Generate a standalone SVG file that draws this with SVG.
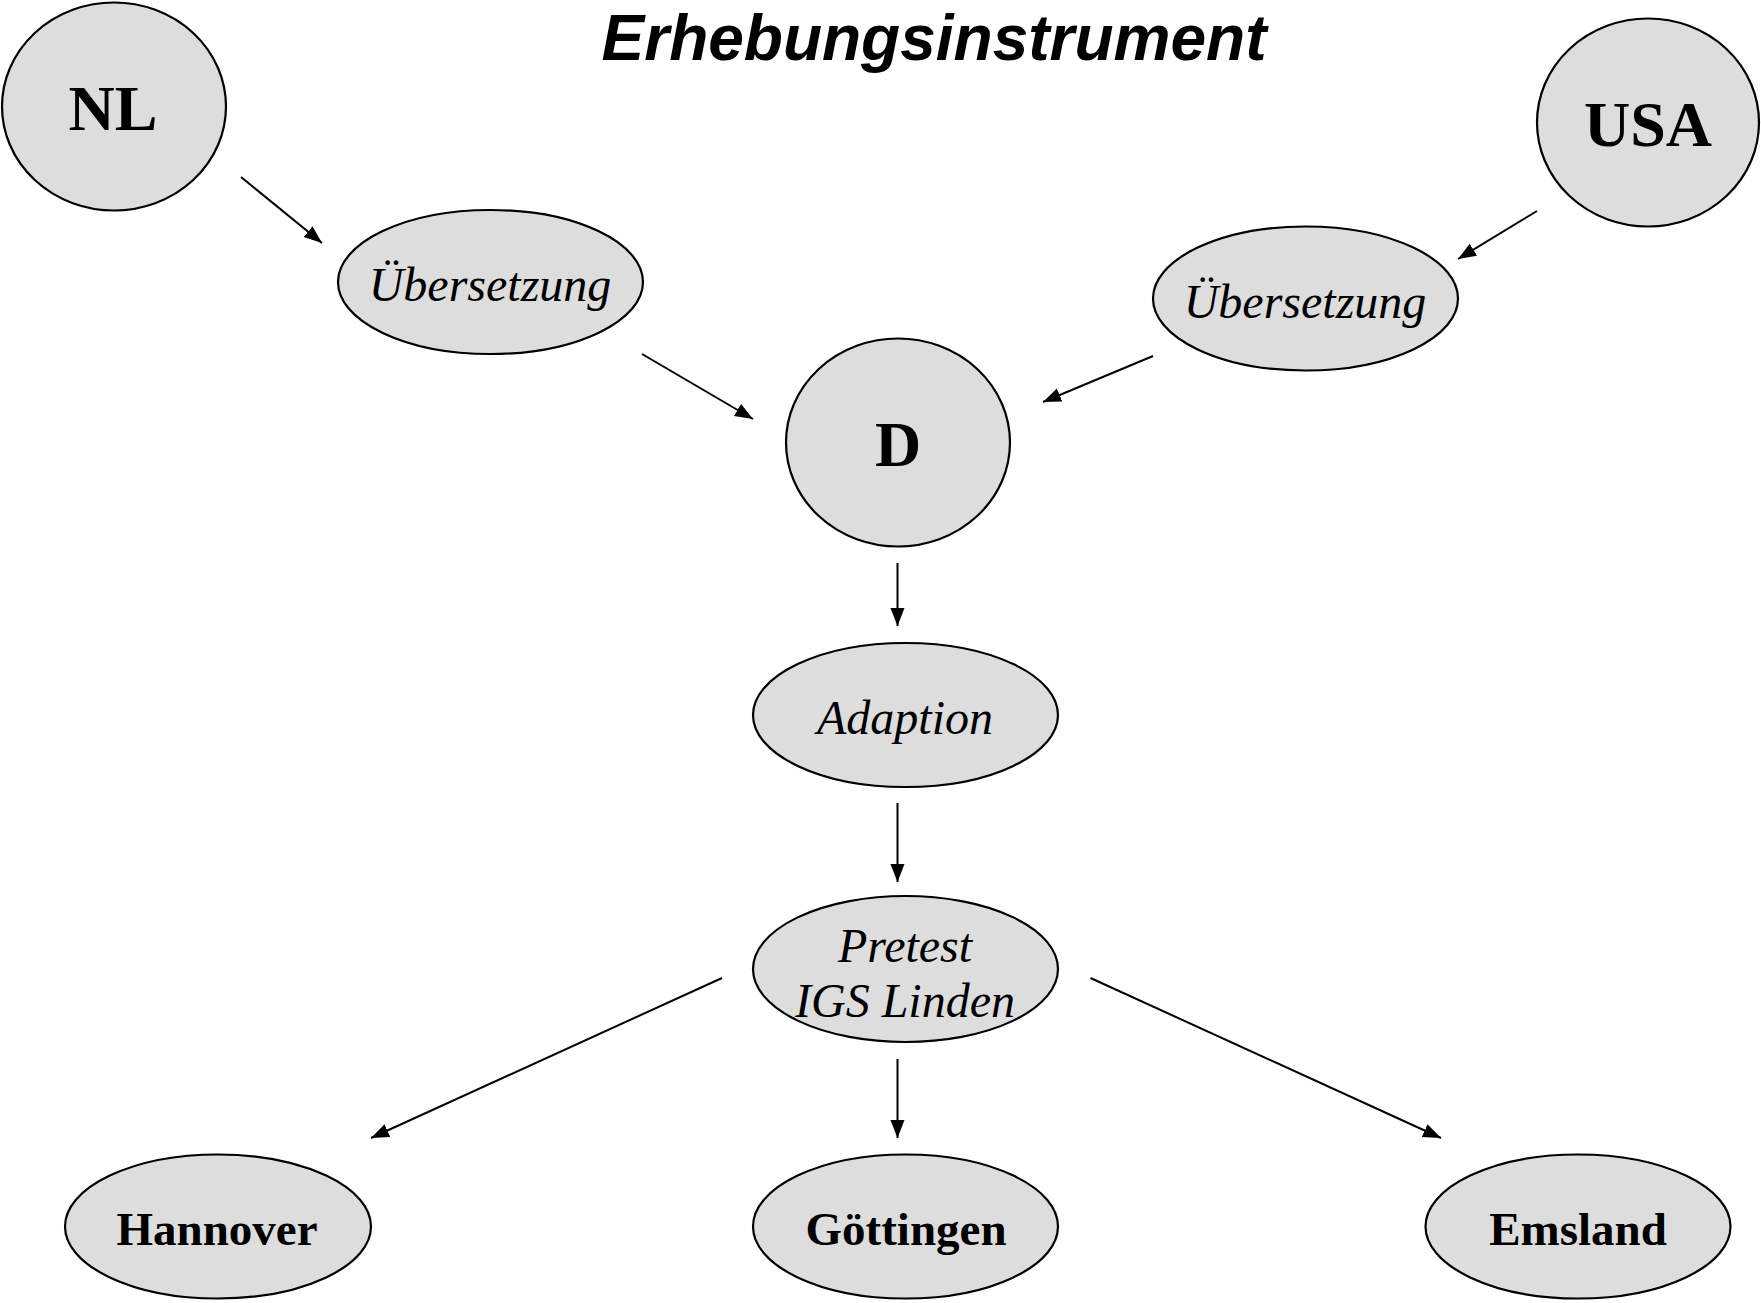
<svg xmlns="http://www.w3.org/2000/svg" width="1761" height="1303" viewBox="0 0 1761 1303">
<style>
.n{fill:#dddddd;stroke:#000;stroke-width:2.2}
.big{font-family:"Liberation Serif","Times New Roman",serif;font-weight:bold;font-size:64px;text-anchor:middle;fill:#000}
.it{font-family:"Liberation Serif","Times New Roman",serif;font-style:italic;font-size:48px;text-anchor:middle;fill:#000}
.bd{font-family:"Liberation Serif","Times New Roman",serif;font-weight:bold;font-size:47px;text-anchor:middle;fill:#000}
.title{font-family:"Liberation Sans",Arial,sans-serif;font-weight:bold;font-style:italic;font-size:64px;text-anchor:middle;fill:#000}
.c{stroke:#000;stroke-width:2;fill:none;marker-end:url(#ah)}
</style>
<defs>
<marker id="ah" markerUnits="userSpaceOnUse" markerWidth="20" markerHeight="16" refX="18" refY="7" orient="auto">
<path d="M0,0 L18,7 L0,14 z" fill="#000"/>
</marker>
</defs>
<rect width="1761" height="1303" fill="#fff"/>
<text class="title" x="934" y="60">Erhebungsinstrument</text>
<g id="connectors">
<line class="c" x1="241" y1="177" x2="322" y2="243"/>
<line class="c" x1="642" y1="354" x2="753" y2="419"/>
<line class="c" x1="1537" y1="211" x2="1458" y2="259"/>
<line class="c" x1="1153" y1="356" x2="1043" y2="402"/>
<line class="c" x1="897.5" y1="563" x2="897.5" y2="626"/>
<line class="c" x1="897.5" y1="803" x2="897.5" y2="882"/>
<line class="c" x1="722" y1="978" x2="371" y2="1138"/>
<line class="c" x1="897.5" y1="1059" x2="897.5" y2="1138"/>
<line class="c" x1="1090.5" y1="978" x2="1441" y2="1138"/>
</g>
<g id="nl"><ellipse class="n" cx="114" cy="106.5" rx="112" ry="104"/><text class="big" x="113" y="130">NL</text></g>
<g id="usa"><ellipse class="n" cx="1648" cy="122.5" rx="111" ry="104"/><text class="big" x="1648" y="146">USA</text></g>
<g id="uebersetzung-left"><ellipse class="n" cx="490.5" cy="282" rx="152.5" ry="72"/><text class="it" x="490" y="301">Übersetzung</text></g>
<g id="uebersetzung-right"><ellipse class="n" cx="1305.5" cy="298.5" rx="152.5" ry="72"/><text class="it" x="1305" y="318">Übersetzung</text></g>
<g id="d"><ellipse class="n" cx="898" cy="442.5" rx="112" ry="104"/><text class="big" x="898" y="466">D</text></g>
<g id="adaption"><ellipse class="n" cx="905.5" cy="715" rx="152.5" ry="72"/><text class="it" x="905" y="734">Adaption</text></g>
<g id="pretest"><ellipse class="n" cx="905.5" cy="969" rx="152.5" ry="73"/><text class="it" x="905" y="962">Pretest</text><text class="it" x="905" y="1017">IGS Linden</text></g>
<g id="hannover"><ellipse class="n" cx="218" cy="1226.5" rx="153" ry="72"/><text class="bd" x="217" y="1245">Hannover</text></g>
<g id="goettingen"><ellipse class="n" cx="905.5" cy="1226.5" rx="152.5" ry="72"/><text class="bd" x="906" y="1245">Göttingen</text></g>
<g id="emsland"><ellipse class="n" cx="1578" cy="1226.5" rx="152.5" ry="72"/><text class="bd" x="1578" y="1245">Emsland</text></g>
</svg>
